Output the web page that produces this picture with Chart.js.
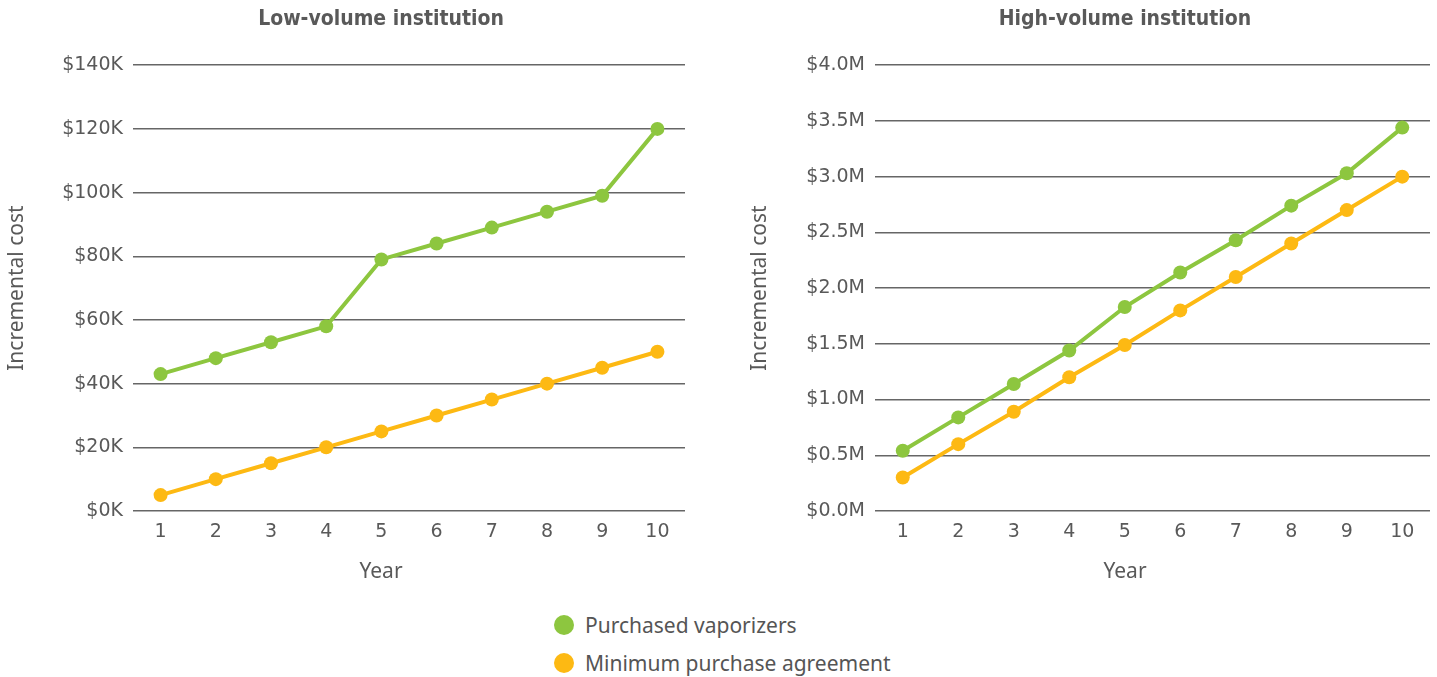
<!DOCTYPE html>
<html>
<head>
<meta charset="utf-8">
<script src="https://cdn.jsdelivr.net/npm/chart.js@4/dist/chart.umd.min.js"></script>
<style>
  html, body { margin: 0; padding: 0; background: #fff; width: 1437px; height: 677px; overflow: hidden; position: relative; }
  #wrapL { position: absolute; left: 0; top: 0; width: 762px; height: 600px; }
  #wrapR { position: absolute; left: 740px; top: 0; width: 770px; height: 600px; }
  #legend { position: absolute; left: 554px; top: 606px; font-family: "Noto Sans", "Open Sans", sans-serif; font-size: 21px; color: #555; }
  .item { display: flex; align-items: center; height: 38px; }
  .dot { width: 20px; height: 20px; border-radius: 50%; margin-right: 11px; }
</style>
</head>
<body>
<div id="wrapL"><canvas id="cL"></canvas></div>
<div id="wrapR"><canvas id="cR"></canvas></div>
<div id="legend"></div>
<script>
const years = ['1','2','3','4','5','6','7','8','9','10'];
const seriesNames = ['Purchased vaporizers', 'Minimum purchase agreement'];
const seriesColors = ['#8dc63f', '#fdb913'];
// Low-volume institution (thousands of $)
const lowPurchased = [43, 48, 53, 58, 79, 84, 89, 94, 99, 120];
const lowMinimum   = [5, 10, 15, 20, 25, 30, 35, 40, 45, 50];
// High-volume institution (millions of $)
const highPurchased = [0.54, 0.84, 1.14, 1.44, 1.83, 2.14, 2.43, 2.74, 3.03, 3.44];
const highMinimum   = [0.30, 0.60, 0.89, 1.20, 1.49, 1.80, 2.10, 2.40, 2.70, 3.00];
const titles = ['Low-volume institution', 'High-volume institution'];
const xTitle = 'Year';
const yTitle = 'Incremental cost';

const textColor = '#595959';
const gridColor = '#666666';
const tickFont = { family: '"DejaVu Sans", sans-serif', size: 19 };
const axisTitleFont = { family: '"Noto Sans", "Open Sans", sans-serif', size: 21 };

function ds(data, i) {
  return {
    label: seriesNames[i],
    data: data,
    borderColor: seriesColors[i],
    backgroundColor: seriesColors[i],
    pointBackgroundColor: seriesColors[i],
    pointBorderWidth: 0,
    pointRadius: 7,
    borderWidth: 4,
    tension: 0
  };
}

function makeChart(id, title, d1, d2, max, step, fmt, yWidth, rightWidth, yTitlePad) {
  return new Chart(document.getElementById(id), {
    type: 'line',
    data: { labels: years, datasets: [ds(d1, 0), ds(d2, 1)] },
    options: {
      responsive: true,
      maintainAspectRatio: false,
      animation: false,
      layout: { padding: 0 },
      plugins: {
        legend: { display: false },
        tooltip: { enabled: false },
        title: {
          display: true,
          text: title,
          color: textColor,
          font: { family: '"DejaVu Sans Condensed", "DejaVu Sans", sans-serif', size: 21, weight: 'bold' },
          padding: { top: 7, bottom: 33 }
        },
        subtitle: {
          display: true,
          position: 'bottom',
          text: xTitle,
          color: textColor,
          font: axisTitleFont,
          padding: { top: 7.4, bottom: 15.4 }
        }
      },
      scales: {
        x: {
          offset: true,
          grid: { display: false },
          border: { display: false },
          ticks: { color: textColor, font: tickFont, padding: 2, maxRotation: 0 },
          afterFit: s => { s.height = 41; }
        },
        y: {
          min: 0, max: max,
          grid: { color: gridColor, lineWidth: 1.5, drawTicks: false },
          border: { display: false },
          ticks: { stepSize: step, color: textColor, font: tickFont, padding: 10, callback: fmt },
          title: { display: true, text: yTitle, color: textColor, font: axisTitleFont, padding: { top: yTitlePad, bottom: 0 } },
          afterFit: s => { s.width = yWidth; }
        },
        spacer: {
          type: 'linear',
          position: 'right',
          display: true,
          grid: { display: false },
          border: { display: false },
          ticks: { display: false },
          afterFit: s => { s.width = rightWidth; }
        }
      }
    }
  });
}

makeChart('cL', titles[0], lowPurchased, lowMinimum, 140, 20, v => '$' + v + 'K', 133, 77, 4.4);
makeChart('cR', titles[1], highPurchased, highMinimum, 4, 0.5, v => '$' + v.toFixed(1) + 'M', 135, 80, 7.4);

const legend = document.getElementById('legend');
seriesNames.forEach((n, i) => {
  const row = document.createElement('div');
  row.className = 'item';
  const dot = document.createElement('span');
  dot.className = 'dot';
  dot.style.background = seriesColors[i];
  const t = document.createElement('span');
  t.textContent = n;
  row.appendChild(dot); row.appendChild(t);
  legend.appendChild(row);
});
</script>
</body>
</html>
